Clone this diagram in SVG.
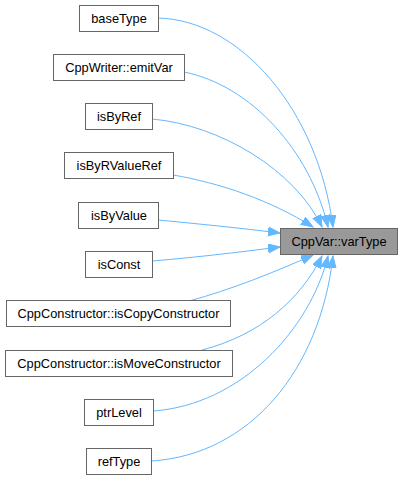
<svg xmlns="http://www.w3.org/2000/svg" width="403" height="480" viewBox="0 0 403 480">
<defs>
<style>
.n rect{fill:#ffffff;stroke:#666666;stroke-width:1}
.n.t rect{fill:#999999}
.n text{font-family:"Liberation Sans",Arial,Helvetica,sans-serif;font-size:12.8px;fill:#000000;text-anchor:middle}
.e path{fill:none;stroke:#63b8ff;stroke-width:1}
</style>
<marker id="ah" markerUnits="userSpaceOnUse" markerWidth="13" markerHeight="10" refX="12" refY="4.5" orient="auto">
<path d="M0,0 L12,4.5 L0,9 z" fill="#63b8ff" stroke="#63b8ff" stroke-width="1"/>
</marker>
</defs>
<rect width="403" height="480" fill="#ffffff"/>
<g id="edges" class="e">
<path d="M158,18 C240,20 318,110 333,227" marker-end="url(#ah)"/>
<path d="M184,72 C250,85 310,150 328,227" marker-end="url(#ah)"/>
<path d="M152,119 C220,125 295,170 322,227" marker-end="url(#ah)"/>
<path d="M173,175 C220,183 270,200 313,227" marker-end="url(#ah)"/>
<path d="M158,220 C200,224 240,228 280,233" marker-end="url(#ah)"/>
<path d="M152,261 C200,257 240,252 280,247" marker-end="url(#ah)"/>
<path d="M189,301 C230,290 275,272 313,255" marker-end="url(#ah)"/>
<path d="M202,350 C260,335 300,300 322,256" marker-end="url(#ah)"/>
<path d="M153,411 C240,405 310,330 328,256" marker-end="url(#ah)"/>
<path d="M151,461 C250,455 320,370 333,256" marker-end="url(#ah)"/>
</g>
<g id="varType" class="n t"><rect x="280.5" y="228.5" width="117" height="26"/><text x="339" y="246">CppVar::varType</text></g>
<g id="baseType" class="n"><rect x="79.5" y="5.5" width="79" height="26"/><text x="119" y="23">baseType</text></g>
<g id="emitVar" class="n"><rect x="53.5" y="54.5" width="131" height="26"/><text x="119" y="72">CppWriter::emitVar</text></g>
<g id="isByRef" class="n"><rect x="85.5" y="103.5" width="67" height="26"/><text x="119" y="121">isByRef</text></g>
<g id="isByRValueRef" class="n"><rect x="64.5" y="152.5" width="109" height="26"/><text x="119" y="170">isByRValueRef</text></g>
<g id="isByValue" class="n"><rect x="78.5" y="202.5" width="80" height="26"/><text x="119" y="220">isByValue</text></g>
<g id="isConst" class="n"><rect x="85.5" y="251.5" width="67" height="26"/><text x="119" y="269">isConst</text></g>
<g id="isCopyConstructor" class="n"><rect x="6.5" y="300.5" width="224" height="26"/><text x="118.5" y="318">CppConstructor::isCopyConstructor</text></g>
<g id="isMoveConstructor" class="n"><rect x="5.5" y="350.5" width="227" height="26"/><text x="119" y="368">CppConstructor::isMoveConstructor</text></g>
<g id="ptrLevel" class="n"><rect x="84.5" y="399.5" width="69" height="26"/><text x="119" y="417">ptrLevel</text></g>
<g id="refType" class="n"><rect x="86.5" y="448.5" width="65" height="26"/><text x="119" y="466">refType</text></g>
</svg>
